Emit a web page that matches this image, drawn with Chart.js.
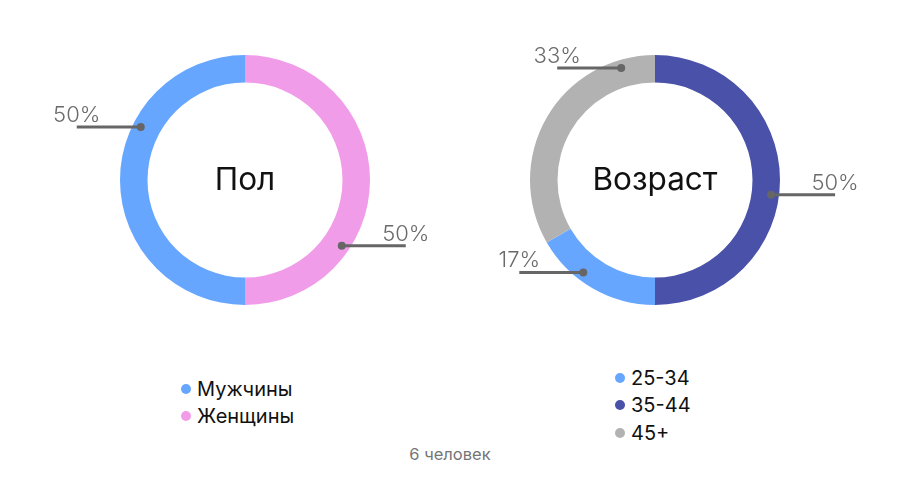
<!DOCTYPE html>
<html lang="ru">
<head>
<meta charset="utf-8">
<title>Пол и возраст</title>
<script src="https://cdn.jsdelivr.net/npm/chart.js@4/dist/chart.umd.min.js"></script>
<style>
  html, body { margin: 0; padding: 0; background: #fff; }
  body { font-family: Inter, Roboto, "Noto Sans", sans-serif; }
  #wrap { position: relative; width: 900px; height: 480px; overflow: hidden; }
  .chart-box { position: absolute; top: 0; width: 450px; height: 340px; }
  #box-sex { left: 0; }
  #box-age { left: 450px; }
  .legend { position: absolute; list-style: none; margin: 0; padding: 0; font-size: 20px; color: #111; }
  .legend li { display: flex; align-items: center; height: 27.5px; }
  .legend .dot { width: 10px; height: 10px; border-radius: 50%; margin-right: 6px; }
  #legend-sex { left: 181px; top: 375px; }
  #legend-age { left: 615px; top: 364px; }
  #footer { position: absolute; left: 0; width: 900px; top: 444px; text-align: center; font-size: 16.5px; color: #757575; }
</style>
</head>
<body>
<div id="wrap">
  <div class="chart-box" id="box-sex"><canvas id="chart-sex"></canvas></div>
  <div class="chart-box" id="box-age"><canvas id="chart-age"></canvas></div>
  <ul class="legend" id="legend-sex"></ul>
  <ul class="legend" id="legend-age"></ul>
  <div id="footer"></div>
</div>
<script>
// Пол
const sexLabels = ["Мужчины", "Женщины"];
const sexCounts = [3, 3];
const sexColors = ["#66a6ff", "#f19ce9"];
const sexSliceOrder = [1, 0]; // clockwise from top

// Возраст
const ageLabels = ["25-34", "35-44", "45+"];
const ageCounts = [1, 3, 2];
const ageColors = ["#66a6ff", "#4a51a8", "#b2b2b2"];
const ageSliceOrder = [1, 0, 2];

const peopleTotal = 6;

(function () {
  const LABEL_FONT = "300 22px Inter, Roboto, sans-serif";
  const TITLE_FONT = "400 31.5px Inter, Roboto, sans-serif";

  /* percent callouts + centre title */
  const calloutPlugin = {
    id: "callouts",
    afterDatasetsDraw(chart, args, opts) {
      const ctx = chart.ctx;
      const meta = chart.getDatasetMeta(0);
      const values = chart.data.datasets[0].data;
      const total = values.reduce((s, v) => s + v, 0);
      ctx.save();
      meta.data.forEach((arc, i) => {
        const p = arc.getProps(["x", "y", "startAngle", "endAngle", "outerRadius"], true);
        const a = p.startAngle + (p.endAngle - p.startAngle) * opts.anchor[i];
        const r = p.outerRadius - 8;
        const px = p.x + Math.cos(a) * r;
        const py = p.y + Math.sin(a) * r;
        const dir = px < p.x ? -1 : 1;
        const ex = px + dir * 64;

        ctx.strokeStyle = "#666";
        ctx.lineWidth = 3;
        ctx.beginPath();
        ctx.moveTo(px, py);
        ctx.lineTo(ex, py);
        ctx.stroke();

        ctx.fillStyle = "#666";
        ctx.beginPath();
        ctx.arc(px, py, 4, 0, Math.PI * 2);
        ctx.fill();

        ctx.font = LABEL_FONT;
        ctx.textAlign = "center";
        ctx.textBaseline = "alphabetic";
        ctx.fillStyle = "#6b6b6b";
        ctx.fillText(Math.round((values[i] / total) * 100) + "%", ex, py - 5);
      });

      const c = meta.data[0];
      ctx.font = TITLE_FONT;
      ctx.fillStyle = "#111";
      ctx.textAlign = "center";
      ctx.textBaseline = "middle";
      ctx.fillText(opts.title, c.x, c.y + 1);
      ctx.restore();
    },
  };

  function makeDoughnut(canvasId, labels, counts, colors, order, title, anchor, padding) {
    return new Chart(document.getElementById(canvasId), {
      type: "doughnut",
      data: {
        labels: order.map((k) => labels[k]),
        datasets: [{
          data: order.map((k) => counts[k]),
          backgroundColor: order.map((k) => colors[k]),
          borderWidth: 0,
          hoverOffset: 0,
        }],
      },
      options: {
        responsive: true,
        maintainAspectRatio: false,
        animation: false,
        cutout: "78%",
        layout: { padding },
        plugins: {
          legend: { display: false },
          tooltip: { enabled: false },
          callouts: { title, anchor },
        },
      },
      plugins: [calloutPlugin],
    });
  }

  makeDoughnut("chart-sex", sexLabels, sexCounts, sexColors, sexSliceOrder, "Пол",
    [0.69, 0.65], { top: 55, bottom: 35, left: 120, right: 80 });
  makeDoughnut("chart-age", ageLabels, ageCounts, ageColors, ageSliceOrder, "Возраст",
    [0.54, 0.63, 0.86], { top: 55, bottom: 35, left: 80, right: 120 });

  function buildLegend(el, labels, colors) {
    labels.forEach((l, i) => {
      const li = document.createElement("li");
      const dot = document.createElement("span");
      dot.className = "dot";
      dot.style.background = colors[i];
      li.appendChild(dot);
      li.appendChild(document.createTextNode(l));
      el.appendChild(li);
    });
  }

  buildLegend(document.getElementById("legend-sex"), sexLabels, sexColors);
  buildLegend(document.getElementById("legend-age"), ageLabels, ageColors);
  document.getElementById("footer").textContent = `${peopleTotal} человек`;
})();
</script>
</body>
</html>
